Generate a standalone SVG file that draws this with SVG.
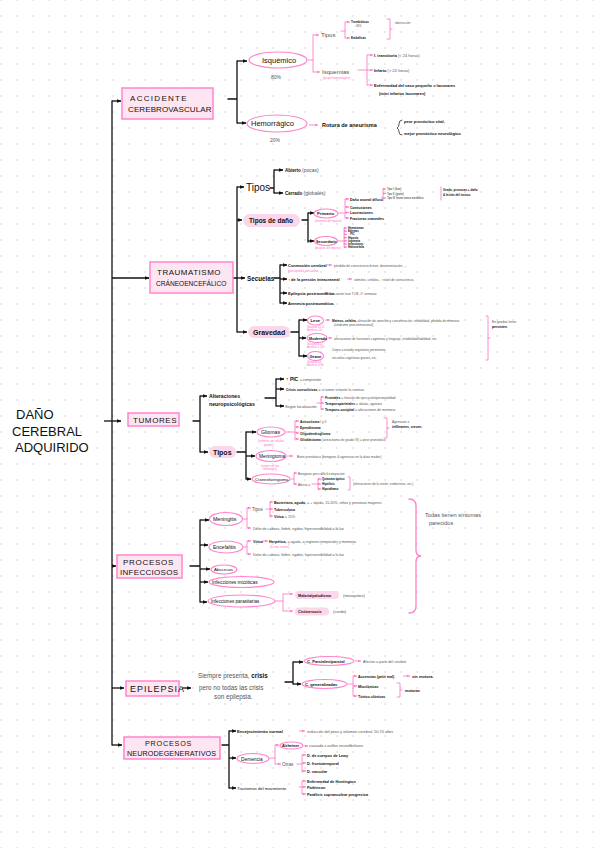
<svg xmlns="http://www.w3.org/2000/svg" width="599" height="848" viewBox="0 0 599 848">
<defs>
<pattern id="dots" x="-7" y="-8" width="16" height="16" patternUnits="userSpaceOnUse"><circle cx="8" cy="8" r="0.8" fill="#cfcfcf"/></pattern>
<marker id="ak" viewBox="0 0 6 6" refX="5.5" refY="3" markerWidth="4.5" markerHeight="4.5" markerUnits="userSpaceOnUse" orient="auto"><path d="M0,0.5 L6,3 L0,5.5 z" fill="#111"/></marker>
<marker id="ap" viewBox="0 0 6 6" refX="5.5" refY="3" markerWidth="3.5" markerHeight="3.5" markerUnits="userSpaceOnUse" orient="auto"><path d="M0,0.5 L6,3 L0,5.5 z" fill="#ff80c8"/></marker>
</defs>
<style>
text{font-family:"Liberation Sans",Arial,sans-serif;fill:#111}
.k{fill:none;stroke:#111;stroke-width:1.3;stroke-linecap:round}
.ka{fill:none;stroke:#111;stroke-width:1.3;marker-end:url(#ak)}
.p{fill:none;stroke:#ff80c8;stroke-width:0.9;stroke-linecap:round}
.pa{fill:none;stroke:#ff80c8;stroke-width:0.9;marker-end:url(#ap)}
.box{fill:#fde6f2;stroke:#ff85cc;stroke-width:1.5}
.ell{fill:#fff;stroke:#ff85cc;stroke-width:1.2}
.pill{fill:#fcd6ea}
.big{font-size:8px;letter-spacing:0.6px}
.b{font-weight:bold}
.g{fill:#555}
.pk{fill:#ff6fc0}
.t4{font-size:4px}
.t45{font-size:4.5px}
.t5{font-size:5px}
.t3{font-size:3px}
</style>
<rect width="599" height="848" fill="#fff"/>
<rect width="599" height="848" fill="url(#dots)"/>

<g id="connectors">
<path class="k" d="M112,101 V745"/>
<path class="ka" d="M112,101 H121"/>
<path class="ka" d="M112,278 H149"/>
<path class="ka" d="M104,421 H121"/>
<path class="ka" d="M112,566 H116"/>
<path class="ka" d="M112,688 H124"/>
<path class="ka" d="M112,745 H122"/>
<!-- ACV -->
<path class="k" d="M228,99 H237 M237,61 V123"/>
<path class="ka" d="M237,61 H247"/>
<path class="ka" d="M237,123 H246"/>
<path class="p" d="M308,60 H313 M313,35 V72"/>
<path class="pa" d="M313,35 H319"/>
<path class="pa" d="M313,72 H320"/>
<path class="p" d="M341,31 H345 M345,22 V38"/>
<path class="pa" d="M345,22 H350"/>
<path class="pa" d="M345,38 H350"/>
<path class="p" d="M387,19 H390 V39 H387 M390,29 H392"/>
<path class="p" d="M358,70 H367 M367,55 V85"/>
<path class="pa" d="M367,55 H373"/>
<path class="pa" d="M367,70 H373"/>
<path class="pa" d="M367,85 H373"/>
<path class="pa" d="M309,125 H318"/>
<path class="k" style="stroke-width:0.7" d="M402,120 Q399,120 399,124 Q399,127 397,128 Q399,129 399,132 Q399,135 402,135"/>
<!-- TCE -->
<path class="k" d="M232,278 H237 M237,187 V332"/>
<path class="ka" d="M237,187 H244"/>
<path class="ka" d="M237,220 H242"/>
<path class="ka" d="M237,278 H245"/>
<path class="ka" d="M237,332 H247"/>
<path class="k" d="M270,188 H274 M274,170 V193"/>
<path class="ka" d="M274,170 H283"/>
<path class="ka" d="M274,193 H283"/>
<path class="k" d="M302,220 H308 M308,213 V242"/>
<path class="ka" d="M308,213 H314"/>
<path class="ka" d="M308,241 H314"/>
<path class="p" d="M339,213 H345 M345,199 V218"/>
<path class="pa" d="M345,199 H349"/>
<path class="pa" d="M345,207 H349"/>
<path class="pa" d="M345,212.5 H349"/>
<path class="pa" d="M345,218 H349"/>
<path class="p" d="M381,198 H383 M383,189 V198"/>
<path class="pa" d="M383,189 H386"/>
<path class="pa" d="M383,193.5 H386"/>
<path class="pa" d="M383,198 H386"/>
<path class="p" d="M441,187 V200"/>
<path class="p" d="M338,241 H344 M344,228 V247"/>
<path class="pa" d="M344,228 H347"/><path class="pa" d="M344,231.2 H347"/><path class="pa" d="M344,234.4 H347"/><path class="pa" d="M344,237.6 H347"/><path class="pa" d="M344,240.8 H347"/><path class="pa" d="M344,244 H347"/><path class="pa" d="M344,247 H347"/>
<path class="k" d="M274,278 H280 M280,265 V303"/>
<path class="ka" d="M280,265 H287"/>
<path class="ka" d="M280,279 H287"/>
<path class="ka" d="M280,293 H287"/>
<path class="ka" d="M280,303 H287"/>
<path class="pa" d="M327,265 H332"/>
<path class="pa" d="M347,279 H352"/>
<path class="pa" d="M324,293 H328"/>
<path class="k" d="M291,332 H299 M299,320 V356"/>
<path class="ka" d="M299,320 H307"/>
<path class="ka" d="M299,338 H306"/>
<path class="ka" d="M299,356 H307"/>
<path class="pa" d="M325,320 H330"/>
<path class="pa" d="M328,338 H332"/>
<path class="p" d="M486,316 H488 V360 H486 M488,338 H490"/>
<!-- TUMORES -->
<path class="k" d="M193,421 H200 M200,396 V452"/>
<path class="ka" d="M200,396 H207"/>
<path class="ka" d="M200,452 H208"/>
<path class="k" d="M265,398 H276 M276,379 V406"/>
<path class="ka" d="M276,379 H284"/>
<path class="ka" d="M276,389 H284"/>
<path class="ka" d="M276,406 H284"/>
<path class="p" d="M317,403 H321 M321,397 V409"/>
<path class="pa" d="M321,397 H324"/>
<path class="pa" d="M321,403 H324"/>
<path class="pa" d="M321,409 H324"/>
<path class="k" d="M237,452 H246 M246,432 V479"/>
<path class="ka" d="M246,432 H256"/>
<path class="ka" d="M246,456 H255"/>
<path class="ka" d="M246,479 H251"/>
<path class="p" d="M286,432 H295 M295,421 V440"/>
<path class="pa" d="M295,421 H299"/>
<path class="pa" d="M295,427 H299"/>
<path class="pa" d="M295,433 H299"/>
<path class="pa" d="M295,439 H299"/>
<path class="p" d="M384,418 H387 V438 H384 M387,428 H389"/>
<path class="pa" d="M287,456 H293"/>
<path class="p" d="M291,479 H294 M294,473 V484"/>
<path class="pa" d="M294,473 H297"/>
<path class="pa" d="M294,484 H297"/>
<path class="p" d="M312,484 H318 M318,479 V489"/>
<path class="pa" d="M318,479 H321"/>
<path class="pa" d="M318,484 H321"/>
<path class="pa" d="M318,489 H321"/>
<path class="p" d="M348,477 H350 V490 H348"/>
<!-- INFECCIOSOS -->
<path class="k" d="M190,566 H200 M200,520 V602"/>
<path class="ka" d="M200,520 H209"/>
<path class="ka" d="M200,545 H208"/>
<path class="ka" d="M200,569 H210"/>
<path class="ka" d="M200,582 H208"/>
<path class="ka" d="M200,602 H207"/>
<path class="p" d="M243,519 H247 M247,508 V528"/>
<path class="pa" d="M247,508 H251"/>
<path class="pa" d="M247,528 H251"/>
<path class="p" d="M266,509 H270 M270,502 V517"/>
<path class="pa" d="M270,502 H273"/>
<path class="pa" d="M270,509 H273"/>
<path class="pa" d="M270,516 H273"/>
<path class="p" d="M244,547 H247 M247,541 V554"/>
<path class="pa" d="M247,541 H251"/>
<path class="pa" d="M247,554 H251"/>
<path class="pa" d="M262,541 H268"/>
<path class="p" d="M275,601 H283 M283,594 V611"/>
<path class="pa" d="M283,594 H293"/>
<path class="pa" d="M283,611 H293"/>
<path class="p" style="stroke-width:1.3" d="M409,499 Q416,499 416,506 V550 Q416,556 421,556 Q416,556 416,562 V606 Q416,613 409,613"/>
<!-- EPILEPSIA -->
<path class="ka" d="M182,688 H191"/>
<path class="k" d="M285,682 H293 M293,662 V684"/>
<path class="ka" d="M293,662 H303"/>
<path class="ka" d="M293,684 H301"/>
<path class="pa" d="M355,661 H361"/>
<path class="p" d="M348,684 H353 M353,676 V696"/>
<path class="pa" d="M353,676 H357"/>
<path class="pa" d="M353,686 H357"/>
<path class="pa" d="M353,696 H357"/>
<path class="pa" d="M403,676 H410"/>
<path class="p" d="M397,683 H400 V697 H397 M400,690 H402"/>
<!-- NEURO -->
<path class="k" d="M222,745 H229 M229,731 V788"/>
<path class="ka" d="M229,731 H236"/>
<path class="ka" d="M229,758 H236"/>
<path class="ka" d="M229,788 H236"/>
<path class="pa" d="M299,731 H305"/>
<path class="p" d="M270,758 H275 M275,745 V764"/>
<path class="pa" d="M275,745 H279"/>
<path class="pa" d="M275,764 H281"/>
<path class="pa" d="M304,746 H308"/>
<path class="p" d="M297,764 H302 M302,755 V772"/>
<path class="pa" d="M302,755 H306"/>
<path class="pa" d="M302,763 H306"/>
<path class="pa" d="M302,771 H306"/>
<path class="p" d="M299,787 H302 M302,781 V794"/>
<path class="pa" d="M302,781 H306"/>
<path class="pa" d="M302,787 H306"/>
<path class="pa" d="M302,794 H306"/>
</g>

<g id="title">
<text x="16" y="419" style="font-size:13px">DAÑO</text>
<text x="12" y="436" style="font-size:13px">CEREBRAL</text>
<text x="15" y="452" style="font-size:13px">ADQUIRIDO</text>
</g>

<g id="acv">
<rect class="box" x="122" y="88" width="91" height="31"/>
<text class="big" x="130" y="101" style="letter-spacing:1.3px">ACCIDENTE</text>
<text class="big" x="128" y="112" style="letter-spacing:0.1px">CEREBROVASCULAR</text>
</g>
<g id="isquemico">
<ellipse class="ell" cx="278" cy="60" rx="29" ry="8"/>
<text x="262" y="63" style="font-size:7.5px">Isquémico</text>
<text class="g" x="271" y="79" style="font-size:5px">80%</text>
<text class="g" x="321" y="37" style="font-size:6px">Tipos</text>
<text class="b t3" x="351" y="23">Trombóticas</text>
<text class="g" x="355" y="27" style="font-size:2.6px">≈80%</text>
<text class="b t3" x="351" y="39">Embólicas</text>
<text class="g t3" x="395" y="24">obstrucción</text>
<text class="g" x="322" y="74" style="font-size:6px">Isquemias</text>
<text class="pk" x="323" y="79" style="font-size:3px">(grupo hemorrágico)</text>
<text class="b t4" x="374" y="56.5">I. transitoria <tspan class="g" style="font-weight:normal">(&lt; 24 horas)</tspan></text>
<text class="b t4" x="374" y="71.5">Infarto <tspan class="g" style="font-weight:normal">(&gt; 24 horas)</tspan></text>
<text class="b t4" x="374" y="86.5">Enfermedad del vaso pequeño = lacunares</text>
<text class="b t4" x="379" y="95">(mini infartos lacunares)</text>
</g>
<g id="hemorragico">
<ellipse class="ell" cx="277" cy="123.5" rx="30" ry="8.5"/>
<text x="251" y="126" style="font-size:7.5px">Hemorrágico</text>
<text class="g" x="270" y="142" style="font-size:5px">20%</text>
<text class="b" x="322" y="127" style="font-size:5.5px">Rotura de aneurisma</text>
<text class="b t4" x="404" y="123">peor pronóstico vital,</text>
<text class="b t4" x="404" y="135">mejor pronóstico neurológico</text>
</g>

<g id="tce">
<rect class="box" x="150" y="262" width="83" height="31"/>
<text class="big" x="157" y="275" style="letter-spacing:0.5px">TRAUMATISMO</text>
<text x="156" y="286" style="font-size:6.6px">CRÁNEOENCEFÁLICO</text>
</g>
<g id="tce-tipos">
<text x="246" y="190.5" style="font-size:10px">Tipos</text>
<text class="b t45" x="285" y="171.5">Abierto <tspan class="g" style="font-weight:normal;font-size:5px">  (pocas)</tspan></text>
<text class="b t45" x="285" y="194.5">Cerrado <tspan class="g" style="font-weight:normal;font-size:5px">  (globales)</tspan></text>
</g>
<g id="tce-dano">
<rect class="pill" x="243" y="214" width="57" height="13" rx="6.5"/>
<text class="b" x="249" y="223" style="font-size:6.5px">Tipos de daño</text>
<ellipse class="ell" cx="326" cy="213.5" rx="12" ry="4.5"/>
<text class="b" x="317" y="215" style="font-size:4.2px">Primario</text>
<text class="pk" x="315" y="222" style="font-size:2.6px">(momento del impacto)</text>
<ellipse class="ell" cx="326" cy="241" rx="11.5" ry="4.5"/>
<text class="b" x="316" y="242.5" style="font-size:3.8px">Secundario</text>
<text class="pk" x="315" y="249" style="font-size:2.6px">(después del impacto)</text>
<text class="b" x="350" y="200.5" style="font-size:3.6px">Daño axonal difuso</text>
<text class="b" x="350" y="208.5" style="font-size:3.6px">Contusiones</text>
<text class="b" x="350" y="214" style="font-size:3.6px">Laceraciones</text>
<text class="b" x="350" y="219.5" style="font-size:3.6px">Fracturas craneales</text>
<text x="387" y="190" style="font-size:2.6px">Tipo I: (leve)</text>
<text x="387" y="194.5" style="font-size:2.6px">Tipo II: (grave)</text>
<text x="387" y="199" style="font-size:2.6px">Tipo III: lesión tronco encefálico</text>
<text class="b" x="443" y="191" style="font-size:3px">Grado, provocan + daño</text>
<text class="b" x="443" y="195.5" style="font-size:3px">&amp; lesión del tronco.</text>
<g class="b" style="font-size:2.8px">
<text x="348" y="229">Hematomas</text><text x="348" y="232.2">Edemas</text><text x="348" y="235.4">↑ PIC</text><text x="348" y="238.6">Hipoxia</text><text x="348" y="241.8">Isquemia</text><text x="348" y="245">Infecciones</text><text x="348" y="248">Hidrocefalia</text>
</g>
</g>
<g id="tce-secuelas">
<text class="b" x="247" y="280.5" style="font-size:6.3px">Secuelas</text>
<text class="b t4" x="288" y="266.5">Conmoción cerebral</text>
<text class="g" x="334" y="266.5" style="font-size:3.4px">pérdida de consciencia breve, desorientación, ...</text>
<text class="pk" x="288" y="271.5" style="font-size:3.4px">principales secuelas</text>
<text class="b t4" x="288" y="280.5">↑ de la presión intracraneal</text>
<text class="g" x="354" y="280.5" style="font-size:3.4px">vómitos, cefalea, ↓ nivel de consciencia</text>
<text class="b t4" x="288" y="294.5">Epilepsia postraumática</text>
<text class="g" x="330" y="294.5" style="font-size:3.4px">frecuente tras TCE, 1ª semana</text>
<text class="b t4" x="288" y="304.5">Amnesia postraumática.</text>
</g>
<g id="tce-gravedad">
<rect class="pill" x="248" y="326" width="42" height="12" rx="6"/>
<text class="b" x="253" y="335" style="font-size:7px">Gravedad</text>
<ellipse class="ell" cx="315.5" cy="320.5" rx="8" ry="4.5"/>
<text class="b" x="310.5" y="322" style="font-size:4.2px">Leve</text>
<text class="pk" x="307" y="327.5" style="font-size:2.6px">Glasgow 13-15</text>
<text class="pk" x="307" y="331" style="font-size:2.6px">Amnesia &lt;1h</text>
<ellipse class="ell" cx="317" cy="338" rx="10" ry="4.5"/>
<text class="b" x="309" y="339.5" style="font-size:3.8px">Moderado</text>
<text class="pk" x="307" y="344.5" style="font-size:2.6px">Glasgow 9-12</text>
<text class="pk" x="307" y="348" style="font-size:2.6px">Amnesia 1-24h</text>
<ellipse class="ell" cx="315.5" cy="356" rx="8" ry="4.5"/>
<text class="b" x="309.5" y="357.5" style="font-size:4.2px">Grave</text>
<text class="pk" x="307" y="362.5" style="font-size:2.6px">Glasgow 3-8</text>
<text class="pk" x="307" y="366" style="font-size:2.6px">Amnesia &gt;24h</text>
<text class="g" x="332" y="321.5" style="font-size:3.2px"><tspan class="b" style="fill:#111">Mareos, cefalea,</tspan> alteración de atención y concentración, irritabilidad, pérdida de memoria</text>
<text class="g" x="334" y="325.5" style="font-size:3.2px">(síndrome posconmocional)</text>
<text class="g" x="334" y="339.5" style="font-size:3.2px">alteraciones de funciones cognitivas y lenguaje, irritabilidad/labilidad, etc.</text>
<text class="g" x="332" y="351" style="font-size:3.2px">Coma o estado vegetativo persistente</text>
<text class="g" x="344" y="354.5" style="font-size:3.2px">↓</text>
<text class="g" x="332" y="358.5" style="font-size:3.2px">secuelas cognitivas graves, etc.</text>
<text class="g" x="492" y="323" style="font-size:3.4px">En grados leves</text>
<text class="b" x="492" y="328" style="font-size:3.4px">persisten</text>
</g>

<g id="tumores">
<rect class="box" x="128" y="413" width="51" height="13"/>
<text class="big" x="133" y="422.5" style="letter-spacing:0.6px">TUMORES</text>
</g>
<g id="tum-alteraciones">
<text class="b" x="209" y="397.5" style="font-size:5.2px">Alteraciones</text>
<text class="b" x="209" y="405.5" style="font-size:5.2px">neuropsicológicas</text>
<text class="b" x="286" y="381" style="font-size:5px">↑ PIC <tspan class="g" style="font-weight:normal;font-size:3.6px"> = compresión</tspan></text>
<text class="b" x="286" y="390.5" style="font-size:3.6px">Crisis convulsivas <tspan class="g" style="font-weight:normal"> = si tumor irritante la corteza</tspan></text>
<text class="g" x="285" y="407.5" style="font-size:3.8px">Según localización</text>
<text class="b" x="325" y="398.5" style="font-size:3.4px">Frontales <tspan class="g" style="font-weight:normal"> = función de ejecución/personalidad</tspan></text>
<text class="b" x="325" y="404.5" style="font-size:3.4px">Temporoparietales <tspan class="g" style="font-weight:normal"> = afasia, agnosia</tspan></text>
<text class="b" x="325" y="410.5" style="font-size:3.4px">Temporo-occipital <tspan class="g" style="font-weight:normal"> = alteraciones de memoria</tspan></text>
</g>
<g id="tum-tipos">
<rect class="pill" x="209" y="446" width="27" height="12" rx="6"/>
<text class="b" x="213" y="454.5" style="font-size:7px">Tipos</text>
<ellipse class="ell" cx="271" cy="432" rx="14" ry="5"/>
<text x="261" y="434" style="font-size:5.2px">Gliomas</text>
<text class="pk" x="258" y="442" style="font-size:3px">(tumores de células</text>
<text class="pk" x="264" y="446" style="font-size:3px">gliales)</text>
<ellipse class="ell" cx="271" cy="456" rx="15" ry="5.5"/>
<text x="259" y="458" style="font-size:4.8px">Meningioma</text>
<text class="pk" x="261" y="466.5" style="font-size:3px">(origen en las</text>
<text class="pk" x="263" y="470" style="font-size:3px">meninges)</text>
<ellipse class="ell" cx="271" cy="479" rx="19" ry="5"/>
<text x="255" y="480.5" style="font-size:4.2px">Craneofaringioma</text>
<text class="b" x="300" y="422.5" style="font-size:3.3px">Astrocitoma <tspan class="g" style="font-weight:normal">I y II</tspan></text>
<text class="b" x="300" y="428.5" style="font-size:3.3px">Ependimoma</text>
<text class="b" x="300" y="434.5" style="font-size:3.3px">Oligodendroglioma</text>
<text class="b" x="300" y="440.5" style="font-size:3.3px">Glioblastoma <tspan class="g" style="font-weight:normal">(astrocitoma de grado IV) = peor pronóstico</tspan></text>
<text class="g" x="392" y="422.5" style="font-size:3.3px">Agresivos e</text>
<text class="b" x="392" y="427.5" style="font-size:3.3px">infiltrantes, crecen.</text>
<text class="g" x="297" y="457.5" style="font-size:3.3px">Buen pronóstico (benignos &amp; agresivos en la dura madre)</text>
<text class="g" x="298" y="474.5" style="font-size:3.3px">Benignos pero difícil extirpación</text>
<text class="g" x="298" y="485.5" style="font-size:3.3px">Afecta a</text>
<text class="b" x="322" y="480.3" style="font-size:3px">Quiasma óptico</text>
<text class="b" x="322" y="485.3" style="font-size:3px">Hipófisis</text>
<text class="b" x="322" y="490.3" style="font-size:3px">Hipotálamo</text>
<text class="g" x="353" y="485" style="font-size:3.2px">(alteraciones de la visión, endocrinas, etc.)</text>
</g>

<g id="infecciosos">
<rect class="box" x="117" y="555" width="65" height="23"/>
<text class="big" x="123" y="565" style="letter-spacing:0.7px">PROCESOS</text>
<text class="big" x="120" y="575" style="letter-spacing:0.3px">INFECCIOSOS</text>
</g>
<g id="meningitis">
<ellipse class="ell" cx="226" cy="519" rx="16.5" ry="6.5"/>
<text x="213" y="521" style="font-size:5.2px">Meningitis</text>
<text class="g" x="252" y="510.5" style="font-size:4.5px">Tipos</text>
<text class="b" x="274" y="503.5" style="font-size:3.6px">Bacteriana, aguda, <tspan class="g" style="font-weight:normal">= + rápida, 15-20%, niños y personas mayores</tspan></text>
<text class="b" x="274" y="510.5" style="font-size:3.6px">Tuberculosa</text>
<text class="b" x="274" y="517.5" style="font-size:3.6px">Vírica <tspan class="g" style="font-weight:normal">= 15%</tspan></text>
<text class="g" x="253" y="529.5" style="font-size:3.6px">Dolor de cabeza, fiebre, rigidez, hipersensibilidad a la luz</text>
</g>
<g id="encefalitis">
<ellipse class="ell" cx="226" cy="547" rx="17" ry="6"/>
<text x="213" y="549" style="font-size:5px">Encefalitis</text>
<text class="b" x="253" y="542.5" style="font-size:3.6px">Vírica</text>
<text class="b" x="269" y="542.5" style="font-size:3.6px">Herpética, <tspan class="g" style="font-weight:normal">= aguda, a regiones temporales y memoria.</tspan></text>
<text class="pk" x="270" y="547.5" style="font-size:2.8px">(la más común)</text>
<text class="g" x="253" y="555.5" style="font-size:3.6px">Dolor de cabeza, fiebre, rigidez, hipersensibilidad a la luz</text>
</g>
<g id="abscesos">
<ellipse class="ell" cx="224" cy="569.5" rx="13" ry="4.5"/>
<text x="214" y="571" style="font-size:4.4px">Abscesos</text>
</g>
<g id="micoticas">
<ellipse class="ell" cx="241.5" cy="582" rx="32.5" ry="5.5"/>
<text x="212" y="584" style="font-size:4.8px">Infecciones micóticas</text>
</g>
<g id="parasitarias">
<ellipse class="ell" cx="241.5" cy="601" rx="33.5" ry="6"/>
<text x="211" y="603" style="font-size:4.6px">Infecciones parasitarias</text>
<rect class="pill" x="295" y="591" width="44" height="8" rx="4"/>
<text class="b" x="298" y="596.5" style="font-size:3.8px">Malaria/paludismo</text>
<text class="g" x="343" y="596.5" style="font-size:4.2px">(mosquitos)</text>
<rect class="pill" x="295" y="607.5" width="34" height="8" rx="4"/>
<text class="b" x="298" y="613" style="font-size:3.8px">Cisticercosis</text>
<text class="g" x="333" y="613" style="font-size:4.2px">(cerdo)</text>
<text class="g" x="425" y="517" style="font-size:5.6px">Todas tienen síntomas</text>
<text class="g" x="429" y="525" style="font-size:5.6px">parecidos</text>
</g>

<g id="epilepsia">
<rect class="box" x="126" y="681" width="53" height="15"/>
<text x="130" y="692" style="font-size:9px;letter-spacing:1px">EPILEPSIA</text>
<text class="g" x="198" y="678" style="font-size:6.3px">Siempre presenta, <tspan class="b" style="fill:#111">crisis</tspan></text>
<text class="g" x="199" y="690" style="font-size:6.3px">pero no todas las crisis</text>
<text class="g" x="214" y="699" style="font-size:6.3px">son epilepsia.</text>
<ellipse class="ell" cx="329" cy="661" rx="25" ry="4.5"/>
<text class="b" x="307" y="662.5" style="font-size:4.1px">C. Parciales/parcial</text>
<text class="g" x="363" y="662.5" style="font-size:3.6px">Afectan a parte del cerebro</text>
<ellipse class="ell" cx="324.5" cy="684" rx="22.5" ry="4.5"/>
<text class="b" x="305" y="685.5" style="font-size:4.1px">C. generalizadas</text>
<text class="b" x="358" y="677.5" style="font-size:3.6px">Ausencias (petit mal)</text>
<text class="b" x="412" y="677.5" style="font-size:4px">sin motora.</text>
<text class="b" x="358" y="687.5" style="font-size:3.6px">Mioclónicas</text>
<text class="b" x="358" y="697.5" style="font-size:3.6px">Tónico-clónicas</text>
<text class="b" x="405" y="691.5" style="font-size:3.8px">motoras</text>
</g>

<g id="neuro">
<rect class="box" x="124" y="737" width="96" height="22"/>
<text x="145" y="746" style="font-size:7.2px;letter-spacing:0.8px">PROCESOS</text>
<text x="127" y="756" style="font-size:7.2px;letter-spacing:0.1px">NEURODEGENERATIVOS</text>
<text class="b" x="237" y="732.5" style="font-size:4.2px">Envejecimiento normal</text>
<text class="g" x="307" y="732.5" style="font-size:3.8px">reducción del peso y volumen cerebral. 50-70 años</text>
<ellipse class="ell" cx="253" cy="758.5" rx="16" ry="5"/>
<text x="241" y="760.5" style="font-size:4.8px">Demencia</text>
<ellipse class="ell" cx="291.5" cy="745.5" rx="11.5" ry="3.5"/>
<text class="b" x="282" y="747" style="font-size:3.6px">Alzheimer</text>
<text class="g" x="309" y="747" style="font-size:3.8px">causada x ovillos neurofibrilares</text>
<text class="g" x="282" y="766" style="font-size:4.6px">Otras</text>
<text class="b" x="307" y="756.5" style="font-size:3.8px">D. de cuerpos de Lewy</text>
<text class="b" x="307" y="764.5" style="font-size:3.8px">D. frontotemporal</text>
<text class="b" x="307" y="772.5" style="font-size:3.8px">D. vascular</text>
<text x="237" y="789.5" style="font-size:4.2px">Trastornos del movimiento</text>
<text class="b" x="307" y="782.5" style="font-size:3.8px">Enfermedad de Huntington</text>
<text class="b" x="307" y="788.5" style="font-size:3.8px">Parkinson</text>
<text class="b" x="307" y="795.5" style="font-size:3.8px">Parálisis supranuclear progresiva</text>
</g>
</svg>
